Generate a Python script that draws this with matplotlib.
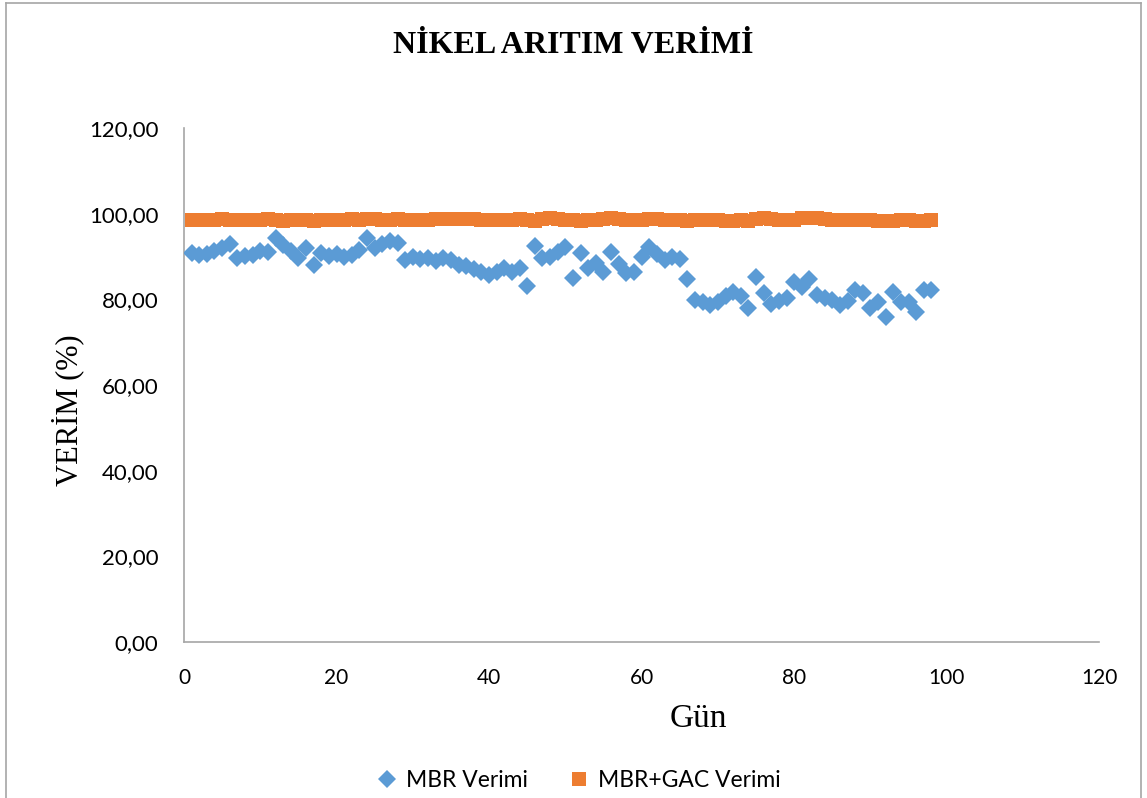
import matplotlib
matplotlib.use("Agg")
import matplotlib.pyplot as plt
from matplotlib.lines import Line2D

# Günlük nikel arıtım verimleri (%)
gun = list(range(1, 99))

mbr_verimi = [
    90.8, 90.3, 90.5, 91.3, 92.0, 92.9, 89.7, 90.1, 90.4, 91.3,
    91.1, 94.3, 92.7, 91.3, 89.7, 92.0, 88.0, 90.8, 90.1, 90.6,
    89.9, 90.4, 91.5, 94.3, 92.0, 92.9, 93.6, 93.2, 89.2, 89.9,
    89.4, 89.7, 89.0, 89.7, 89.2, 88.0, 87.8, 87.1, 86.4, 85.7,
    86.4, 87.3, 86.4, 87.3, 83.1, 92.5, 89.7, 89.9, 91.1, 92.2,
    85.0, 90.8, 87.3, 88.5, 86.4, 91.1, 88.3, 86.2, 86.4, 89.9,
    92.2, 90.6, 89.2, 89.9, 89.4, 84.8, 79.9, 79.4, 78.7, 79.4,
    80.8, 81.7, 80.8, 78.0, 85.2, 81.5, 78.9, 79.6, 80.3, 84.1,
    82.9, 84.8, 81.0, 80.3, 79.9, 78.7, 79.6, 82.2, 81.5, 78.0,
    79.4, 75.9, 81.7, 79.4, 79.4, 77.0, 82.2, 82.2,
]

mbr_gac_verimi = [
    98.6, 98.5, 98.6, 98.6, 98.7, 98.6, 98.6, 98.5, 98.6, 98.6,
    98.7, 98.6, 98.4, 98.5, 98.6, 98.5, 98.4, 98.5, 98.6, 98.6,
    98.6, 98.7, 98.6, 98.8, 98.7, 98.6, 98.6, 98.7, 98.6, 98.6,
    98.5, 98.6, 98.7, 98.8, 98.8, 98.7, 98.8, 98.7, 98.6, 98.6,
    98.5, 98.5, 98.6, 98.7, 98.6, 98.4, 98.8, 98.9, 98.7, 98.6,
    98.5, 98.4, 98.5, 98.6, 98.8, 98.9, 98.8, 98.6, 98.5, 98.5,
    98.7, 98.8, 98.6, 98.5, 98.5, 98.4, 98.5, 98.5, 98.6, 98.5,
    98.4, 98.4, 98.5, 98.4, 98.8, 98.9, 98.7, 98.6, 98.5, 98.6,
    98.9, 99.0, 98.9, 98.7, 98.6, 98.6, 98.5, 98.6, 98.6, 98.5,
    98.4, 98.3, 98.4, 98.5, 98.5, 98.4, 98.4, 98.6,
]

x_ticks = [0, 20, 40, 60, 80, 100, 120]
y_ticks = [0, 20, 40, 60, 80, 100, 120]

MAVI = "#5B9BD5"
TURUNCU = "#ED7D31"
GRI = "#A6A6A6"

fig = plt.figure(figsize=(11.47, 7.98), dpi=100)
ax = fig.add_axes([0.1604, 0.1955, 0.798, 0.644])

ax.plot(gun, mbr_gac_verimi, linestyle="none", marker="s", markersize=10,
        color=TURUNCU, markeredgewidth=0, zorder=3)
ax.plot(gun, mbr_verimi, linestyle="none", marker="D", markersize=9,
        color=MAVI, markeredgewidth=0, zorder=4)

ax.set_xlim(0, 120)
ax.set_ylim(0, 120)
ax.set_xticks(x_ticks)
ax.set_yticks(y_ticks)
ax.set_xticklabels([str(v) for v in x_ticks], fontfamily="Lato", fontsize=15)
ax.set_yticklabels([f"{v:.2f}".replace(".", ",") for v in y_ticks],
                   fontfamily="Lato", fontsize=16)
ax.tick_params(axis="x", length=0, pad=19)
ax.tick_params(axis="y", length=0, pad=18.5)

for s in ("top", "right"):
    ax.spines[s].set_visible(False)
for s in ("left", "bottom"):
    ax.spines[s].set_color(GRI)
    ax.spines[s].set_linewidth(1.2)

ax.set_xlabel("Gün", fontfamily="Liberation Serif", fontsize=24)
ax.xaxis.set_label_coords(0.562, -0.119)

# Dikey eksen başlığı
fig.text(0.0593, 0.486, "VERİM (%)", rotation=90, ha="center", va="center",
         fontfamily="Liberation Serif", fontsize=22)

fig.text(0.5, 0.943, "NİKEL ARITIM VERİMİ", ha="center", va="center",
         fontfamily="Liberation Serif", fontweight="bold", fontsize=23)

handles = [
    Line2D([], [], linestyle="none", marker="D", markersize=9, color=MAVI,
           markeredgewidth=0, label="MBR Verimi"),
    Line2D([], [], linestyle="none", marker="s", markersize=10, color=TURUNCU,
           markeredgewidth=0, label="MBR+GAC Verimi"),
]
fig.legend(handles=handles, loc="center", bbox_to_anchor=(0.504, 0.022), ncol=2,
           frameon=False, prop={"family": "Lato", "size": 16.5},
           handletextpad=0.3, columnspacing=1.76, handlelength=1.0)

# Grafik alanı çerçevesi
fig.add_artist(Line2D([0.005, 0.005], [0.0, 0.996], color=GRI, lw=1.2,
                      transform=fig.transFigure))
fig.add_artist(Line2D([0.005, 0.995], [0.996, 0.996], color=GRI, lw=1.2,
                      transform=fig.transFigure))
fig.add_artist(Line2D([0.995, 0.995], [0.0, 0.996], color=GRI, lw=1.2,
                      transform=fig.transFigure))

fig.savefig("out.png", dpi=100)
